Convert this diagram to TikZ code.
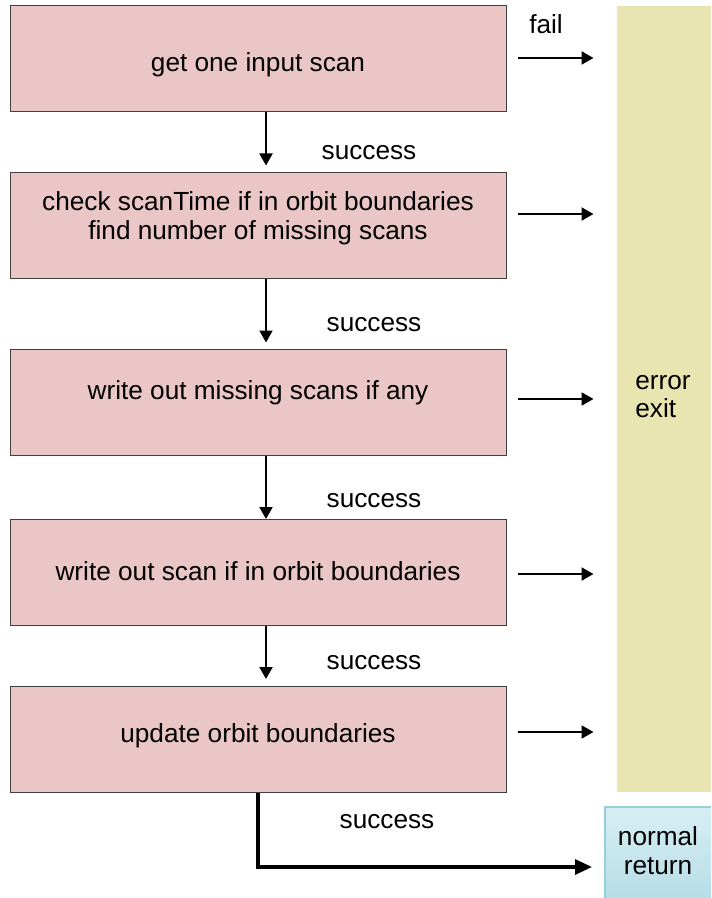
\documentclass[tikz,border=0pt]{standalone}
\usepackage{fontspec}
\setmainfont{Liberation Sans}
\usetikzlibrary{arrows.meta}
\definecolor{boxpink}{RGB}{234,198,198}
\definecolor{errfill}{RGB}{233,229,176}
\definecolor{rettop}{RGB}{216,239,244}
\definecolor{retbot}{RGB}{182,221,231}
\definecolor{retline}{RGB}{150,206,222}

\begin{document}
\begin{tikzpicture}[x=0.5pt,y=-0.5pt,
    stage/.style={draw=black!75,line width=0.5pt,fill=boxpink,minimum width=248pt,minimum height=53pt,inner sep=0pt},
    txt/.style={font=\fontsize{13.1}{14.4}\selectfont,align=center,inner sep=0pt,yshift=-1.3pt},
    flow/.style={line width=1pt,-{Triangle[length=6pt,width=6.5pt]}},
    retflow/.style={line width=1.6pt,-{Triangle[length=8.5pt,width=7.5pt]}}]
    \useasboundingbox (0,0) rectangle (711,898);
    \clip (0,0) rectangle (711,898);

    % Draw error column and return box
    \node[fill=errfill,minimum width=48pt,minimum height=393pt,inner sep=0pt] (err) at (665,399) {};
    \node[txt,align=left,anchor=west] (errt) at (635,394) {error\\exit};
    \node[draw=retline,line width=1pt,top color=rettop,bottom color=retbot,minimum width=54pt,minimum height=46pt,inner sep=0pt] (ret) at (659,853) {};
    \node[txt] (rett) at (658,848) {normal\\return};

    % Draw boxes
    \node[stage] (get) at (258,59) {};
    \node[txt] (gett) at (258,62) {get one input scan};
    \node[stage] (check) at (258,226) {};
    \node[txt] (checkt) at (258,216) {check scanTime if in orbit boundaries\\find number of missing scans};
    \node[stage] (miss) at (258,402) {};
    \node[txt] (misst) at (258,390) {write out missing scans if any};
    \node[stage] (scan) at (258,572.5) {};
    \node[txt] (scant) at (258,569) {write out scan if in orbit boundaries};
    \node[stage] (upd) at (258,739.5) {};
    \node[txt] (updt) at (258,733) {update orbit boundaries};

    % Draw success arrows
    \draw[flow,shorten >=3.5pt] ([xshift=4pt]get.south) -- ([xshift=4pt]check.north);
    \draw[flow,shorten >=3pt] ([xshift=4pt]check.south) -- ([xshift=4pt]miss.north);
    \draw[flow] ([xshift=4pt]miss.south) -- ([xshift=4pt]scan.north);
    \draw[flow,shorten >=3.5pt] ([xshift=4pt]scan.south) -- ([xshift=4pt]upd.north);
    \node[txt] (ok1) at (369,150) {success};
    \node[txt] (ok2) at (374,322) {success};
    \node[txt] (ok3) at (374,498) {success};
    \node[txt] (ok4) at (374,660) {success};

    % Draw fail arrows
    \node[txt] (fail) at (546,22) {fail};
    \draw[flow] (get.east) ++(11,-1) -- ++(76,0);
    \draw[flow] (check.east) ++(11,-12) -- ++(76,0);
    \draw[flow] (miss.east) ++(11,-3) -- ++(76,0);
    \draw[flow] (scan.east) ++(11,1.5) -- ++(76,0);
    \draw[flow] (upd.east) ++(11,-7.5) -- ++(76,0);

    % Draw normal return
    \coordinate (rtip) at (592,867);
    \draw[retflow] (upd.south) |- (rtip);
    \node[txt] (ok5) at (387,819) {success};

\end{tikzpicture}
\end{document}
